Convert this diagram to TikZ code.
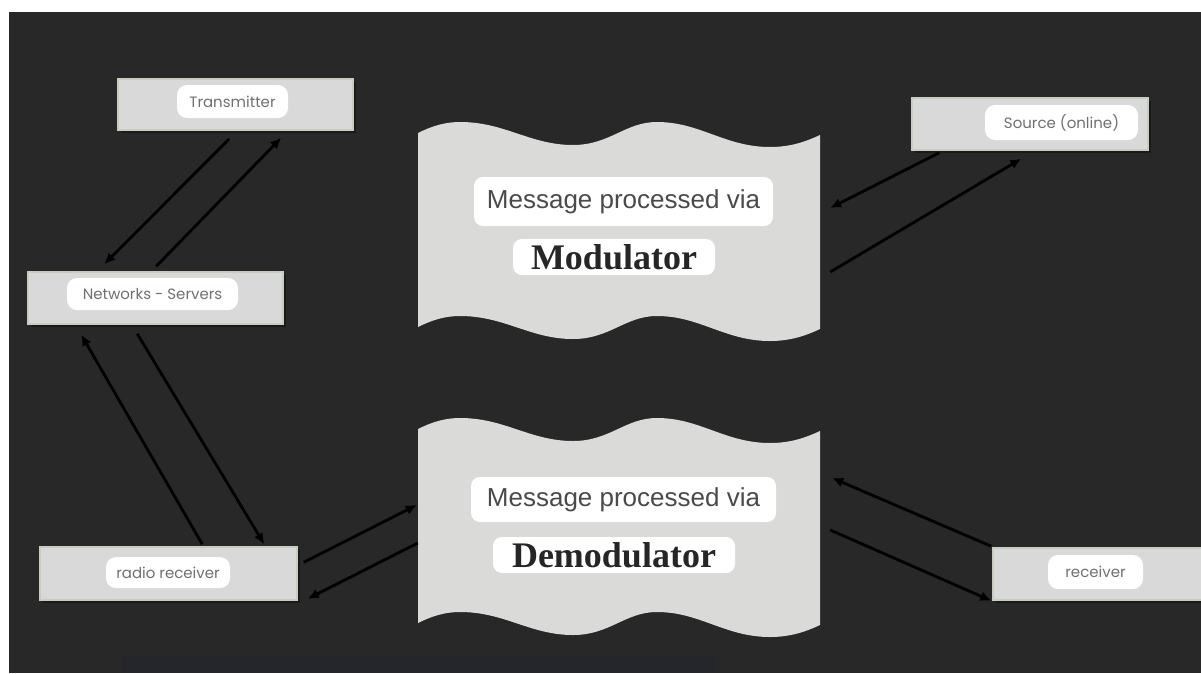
\documentclass[tikz,border=0pt]{standalone}
\usepackage{fontspec}
\setmainfont{Liberation Sans}
\newfontfamily\labelfont{Poppins}
\newfontfamily\titlefont{Liberation Serif}
\usetikzlibrary{calc,arrows.meta,shadows}

\definecolor{bg}{HTML}{282828}
\definecolor{barblue}{HTML}{24262B}
\definecolor{boxfill}{HTML}{D9D9D9}
\definecolor{boxedge}{HTML}{C6CEBE}
\definecolor{tapefill}{HTML}{DADAD8}
\definecolor{labelgray}{HTML}{707070}
\definecolor{msggray}{HTML}{4A4A4A}

\tikzset{
  devbox/.style={draw=boxedge, fill=boxfill, line width=1.5pt, inner sep=0pt,
    drop shadow={shadow xshift=2.5pt, shadow yshift=-2.5pt, fill=black, opacity=0.35}},
  pill/.style={fill=white, rounded corners=10pt, inner sep=0pt,
    font=\labelfont\fontsize{15}{18}\selectfont, text=labelgray},
  msgpill/.style={fill=white, rounded corners=9pt, inner sep=0pt,
    font=\fontsize{26}{30}\selectfont, text=msggray},
  titlepill/.style={fill=white, rounded corners=9pt, inner sep=0pt,
    font=\titlefont\bfseries\fontsize{36}{40}\selectfont, text=black!85},
  area/.style={inner sep=0pt, minimum width=402pt, minimum height=220pt},
  arr/.style={draw=black, line width=2.8pt, -{Latex[length=11pt,width=10pt]}},
}

% wavy tape outline, top edge y0 and height h
\newcommand{\wavytape}[2]{%
  \fill[tapefill]
    (418,#1+11) .. controls (432,#1+4) and (445,#1) .. (460,#1)
      .. controls (505,#1) and (530,#1+23) .. (573,#1+23)
      .. controls (610,#1+23) and (625,#1) .. (657,#1)
      .. controls (700,#1) and (725,#1+25) .. (770,#1+25)
      .. controls (790,#1+25) and (805,#1+20) .. (820,#1+13)
    -- (820,#1+13+#2)
      .. controls (805,#1+20+#2) and (790,#1+25+#2) .. (770,#1+25+#2)
      .. controls (725,#1+25+#2) and (700,#1+#2) .. (657,#1+#2)
      .. controls (625,#1+#2) and (610,#1+23+#2) .. (573,#1+23+#2)
      .. controls (530,#1+23+#2) and (505,#1+#2) .. (460,#1+#2)
      .. controls (445,#1+#2) and (432,#1+4+#2) .. (418,#1+11+#2)
    -- cycle;}

\begin{document}
\begin{tikzpicture}[x=1pt,y=-1pt]
\useasboundingbox (0,0) rectangle (1201,673);
\fill[white] (0,0) rectangle (1201,673);
\fill[bg] (9,12) rectangle (1201,673);
\fill[barblue] (122,655) rectangle (716,673);

% processing stages
\wavytape{122}{194}
\wavytape{418}{194}
\node[area] (mod) at (619,232) {};
\node[area] (dem) at (619,528) {};

\node[msgpill, minimum width=299pt, minimum height=49pt] (modmsg) at (623.5,201.5) {Message processed via};
\node[titlepill, minimum width=202pt, minimum height=36pt] (modname) at (614,257) {Modulator};
\node[msgpill, minimum width=305pt, minimum height=45pt] (demmsg) at (623.5,499.5) {Message processed via};
\node[titlepill, minimum width=242pt, minimum height=36pt] (demname) at (614,555) {Demodulator};

% endpoints
\node[devbox, minimum width=235pt, minimum height=51pt] (tx) at (235.5,104.5) {};
\node[pill, minimum width=111pt, minimum height=33pt] (txl) at (232.5,101.5) {Transmitter};

\node[devbox, minimum width=255pt, minimum height=52pt] (net) at (155.5,298) {};
\node[pill, minimum width=171pt, minimum height=32pt] (netl) at (152.5,294) {Networks - Servers};

\node[devbox, minimum width=257pt, minimum height=53pt] (rr) at (168.5,573.5) {};
\node[pill, minimum width=124pt, minimum height=31pt] (rrl) at (168,572.5) {radio receiver};

\node[devbox, minimum width=236pt, minimum height=52pt] (src) at (1030,124) {};
\node[pill, minimum width=153pt, minimum height=35pt] (srcl) at (1061.5,122.5) {Source (online)};

\node[devbox, minimum width=212pt, minimum height=52pt] (rcv) at (1099,574) {};
\node[pill, minimum width=95pt, minimum height=34pt] (rcvl) at (1095.5,572) {receiver};

% links
\draw[arr] ($(tx.south west)+(112,8)$) -- ($(net.north west)+(77,-7)$);
\draw[arr] ($(net.north west)+(129,-5)$) -- ($(tx.south west)+(164,7)$);
\draw[arr] ($(rr.north west)+(163,-2)$) -- ($(net.south west)+(54,10)$);
\draw[arr] ($(net.south west)+(110,9)$) -- ($(rr.north west)+(225,-2)$);
\draw[arr] ($(rr.north east)+(6,16)$) -- ($(dem.west)+(-1,-23)$);
\draw[arr] ($(dem.west)+(0,15)$) -- ($(rr.south east)+(10,-2)$);
\draw[arr] ($(src.south west)+(28,2)$) -- ($(mod.east)+(10,-24)$);
\draw[arr] ($(mod.east)+(10,40)$) -- ($(src.south west)+(110,8)$);
\draw[arr] ($(rcv.north west)+(-1,-1)$) -- ($(dem.east)+(12,-50)$);
\draw[arr] ($(dem.east)+(10,2)$) -- ($(rcv.south west)+(-1,0)$);
\end{tikzpicture}
\end{document}
